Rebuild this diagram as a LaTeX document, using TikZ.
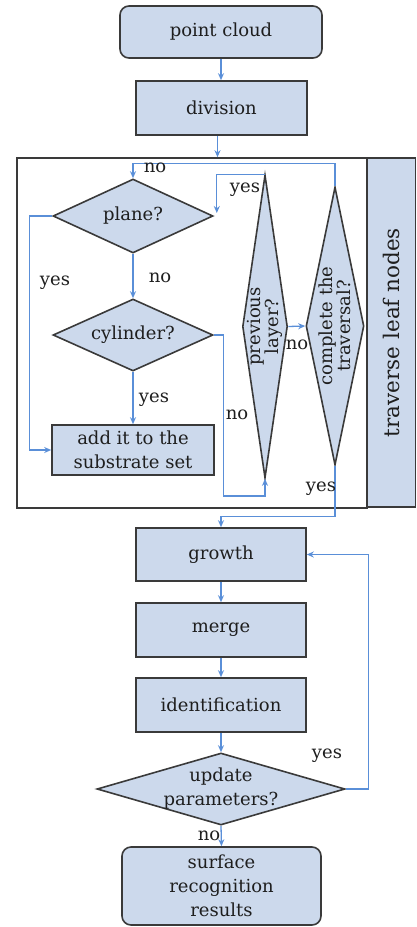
\documentclass[tikz,border=0pt]{standalone}
\usepackage{fontspec}
\setmainfont{DejaVu Serif}
\usetikzlibrary{shapes.geometric,arrows.meta}
\definecolor{boxfill}{HTML}{CCD9EC}
\definecolor{arrowblue}{HTML}{5A8FD8}
\definecolor{bordergray}{HTML}{3A3A3A}
\definecolor{textgray}{HTML}{1E1E1E}
\begin{document}
\begin{tikzpicture}[x=1pt,y=-1pt,
  every node/.style={font=\fontsize{18}{24}\selectfont, text=textgray},
  box/.style={draw=bordergray, line width=1.6pt, fill=boxfill, inner sep=0pt, align=center},
  rbox/.style={box, rounded corners=9pt},
  dia/.style={diamond, draw=bordergray, line width=1.6pt, fill=boxfill, inner sep=0pt, shape aspect=1},
  arr/.style={draw=arrowblue, line width=1.3pt, -{Stealth[length=7pt,width=6pt]}},
  lab/.style={inner sep=0pt, font=\fontsize{18}{20}\selectfont},
  vlab/.style={rotate=90, align=center, inner sep=0pt, font=\fontsize{18}{18}\selectfont}
]
\useasboundingbox (0,0) rectangle (416,927);

% top
\node[rbox, minimum width=202pt, minimum height=52pt] (pc) at (221,32) {point cloud};
\node[box, minimum width=171pt, minimum height=54pt] (div) at (221.5,108) {division};

% frame and panel
\node[draw=bordergray, line width=1.6pt, minimum width=350pt, minimum height=350pt, inner sep=0pt] (frame) at (192,333) {};
\node[box, rotate=90, minimum width=349pt, minimum height=48pt, font=\fontsize{21.5}{24}\selectfont] (panel) at (391.5,332.5) {traverse leaf nodes};

% inner flow
\node[dia, minimum width=160pt, minimum height=74pt, label={center:plane?}] (plane) at (133,216) {};
\node[dia, minimum width=160pt, minimum height=72pt, label={center:cylinder?}] (cyl) at (133,335) {};
\node[box, minimum width=162pt, minimum height=50pt] (sub) at (133,450) {add it to the\\substrate set};
\node[dia, minimum width=45pt, minimum height=303pt, label={[vlab]center:previous\\layer?}] (prev) at (265,326.5) {};
\node[dia, minimum width=58pt, minimum height=278pt, label={[vlab]center:complete the\\traversal?}] (comp) at (335,326) {};

% lower flow
\node[box, minimum width=170pt, minimum height=53pt] (growth) at (221,554.5) {growth};
\node[box, minimum width=170pt, minimum height=54pt] (merge) at (221,630) {merge};
\node[box, minimum width=170pt, minimum height=54pt] (ident) at (221,705) {identification};
\node[dia, minimum width=248pt, minimum height=72pt, label={[align=center]center:update\\parameters?}] (upd) at (221,789) {};
\node[rbox, minimum width=199pt, minimum height=78pt] (surf) at (221.5,886) {surface\\recognition\\results};

% connectors
\draw[arr] (pc.south) -- (pc.south |- div.north);
\draw[arr] ([xshift=-4pt]div.south) -- ([xshift=-4pt]div.south |- frame.north);
\draw[arr] (comp.north) -- ++(0,-23) -| (plane.north);
\draw[arr] (prev.north) -| ([xshift=3pt,yshift=3pt]plane.east);
\draw[arr] (plane.west) -- ++(-23,0) |- (sub.west);
\draw[arr] (plane.south) -- (cyl.north);
\draw[arr] (cyl.south) -- (sub.north);
\draw[arr] (cyl.east) -- ++(10,0) -- ++(0,161) -| (prev.south);
\draw[arr] (prev.east) -- (comp.west);
\draw[arr] (comp.south) -- ++(0,51) -| (growth.north);
\draw[arr] (growth.south) -- (merge.north);
\draw[arr] (merge.south) -- (ident.north);
\draw[arr] (ident.south) -- (upd.north);
\draw[arr] (upd.east) -- ++(23,0) |- (growth.east);
\draw[arr] (upd.south) -- (surf.north);

% labels
\node[lab] (l1) at (155,168) {no};
\node[lab] (l2) at (245,190) {yes};
\node[lab] (l3) at (55,283) {yes};
\node[lab] (l4) at (160,278) {no};
\node[lab] (l5) at (154,400) {yes};
\node[lab] (l6) at (237,415) {no};
\node[lab] (l7) at (297,345) {no};
\node[lab] (l8) at (321,489) {yes};
\node[lab] (l9) at (327,756) {yes};
\node[lab] (l10) at (209,836) {no};
\end{tikzpicture}
\end{document}
